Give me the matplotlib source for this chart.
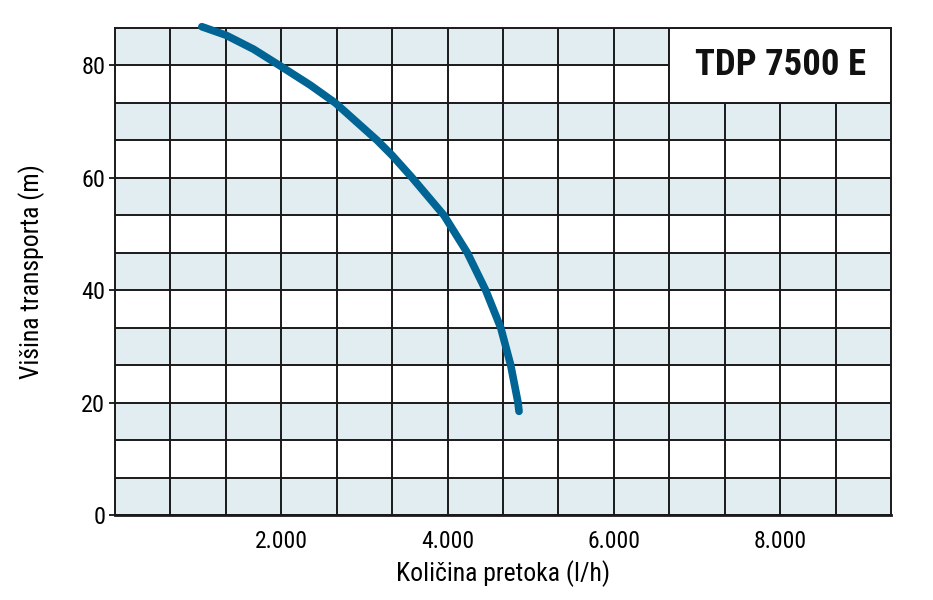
import numpy as np
import matplotlib.pyplot as plt
from matplotlib.patches import Rectangle

plt.rcParams['font.family'] = ['Roboto Condensed', 'DejaVu Sans']
plt.rcParams['font.stretch'] = 'condensed'

# Pump curve TDP 7500 E ###############################################################
flow = [1044, 1333, 1666, 2000, 2349, 2650, 3153, 3333, 3575, 3956, 4237, 4458, 4639, 4759, 4847, 4859]
head = [86.9, 85.4, 82.9, 79.8, 76.5, 73.33, 66.67, 64.0, 60.0, 53.33, 46.67, 40.0, 33.33, 26.67, 20.0, 18.45]

model = 'TDP 7500 E'
x_ticks = [2000, 4000, 6000, 8000]
x_ticklabels = ['2.000', '4.000', '6.000', '8.000']
y_ticks = [0, 20, 40, 60, 80]

x_step = 2000 / 3
y_step = 20 / 3
x_max = 14 * x_step
y_max = 13 * y_step

fig = plt.figure(figsize=(9.33, 6.0), dpi=100)
ax = fig.add_axes([0.1233, 0.1417, 0.8317, 0.8116])

# light blue stripes on every other row
for i in range(0, 13, 2):
    ax.axhspan(i * y_step, (i + 1) * y_step, color='#e2edf1', lw=0, zorder=0.1)

ax.set_xlim(0, x_max)
ax.set_ylim(0, y_max)
ax.set_xticks(np.arange(1, 14) * x_step, minor=True)
ax.set_yticks(np.arange(1, 13) * y_step, minor=True)
ax.set_xticks(x_ticks)
ax.set_xticklabels(x_ticklabels)
ax.set_yticks(y_ticks)
ax.set_axisbelow(True)
ax.grid(True, which='both', color='#1a1a1a', lw=1.4)
ax.tick_params(axis='x', which='both', length=0, pad=11, labelsize=17)
ax.tick_params(axis='y', which='minor', length=0)
ax.tick_params(axis='y', which='major', length=4, width=1.2, pad=3, labelsize=17.5)
for s in ax.spines.values():
    s.set_color('#1a1a1a')
    s.set_linewidth(1.4)
ax.spines['bottom'].set_linewidth(2)

# model name box
ax.add_patch(Rectangle((10 * x_step, 11 * y_step), 4 * x_step, 2 * y_step,
                       facecolor='white', edgecolor='#1a1a1a', lw=1.4, zorder=1))
ax.text(12 * x_step, 12 * y_step, model, ha='center', va='center', fontsize=26.5,
        fontweight='bold', color='#111111', zorder=4)

ax.plot(flow, head, color='#006494', lw=5.5, solid_capstyle='round',
        solid_joinstyle='round', zorder=3, clip_on=False)

ax.set_xlabel('Količina pretoka (l/h)', fontsize=18.5, labelpad=5)
ax.set_ylabel('Višina transporta (m)', fontsize=18.5, labelpad=26)

fig.savefig('out.png', dpi=100)
